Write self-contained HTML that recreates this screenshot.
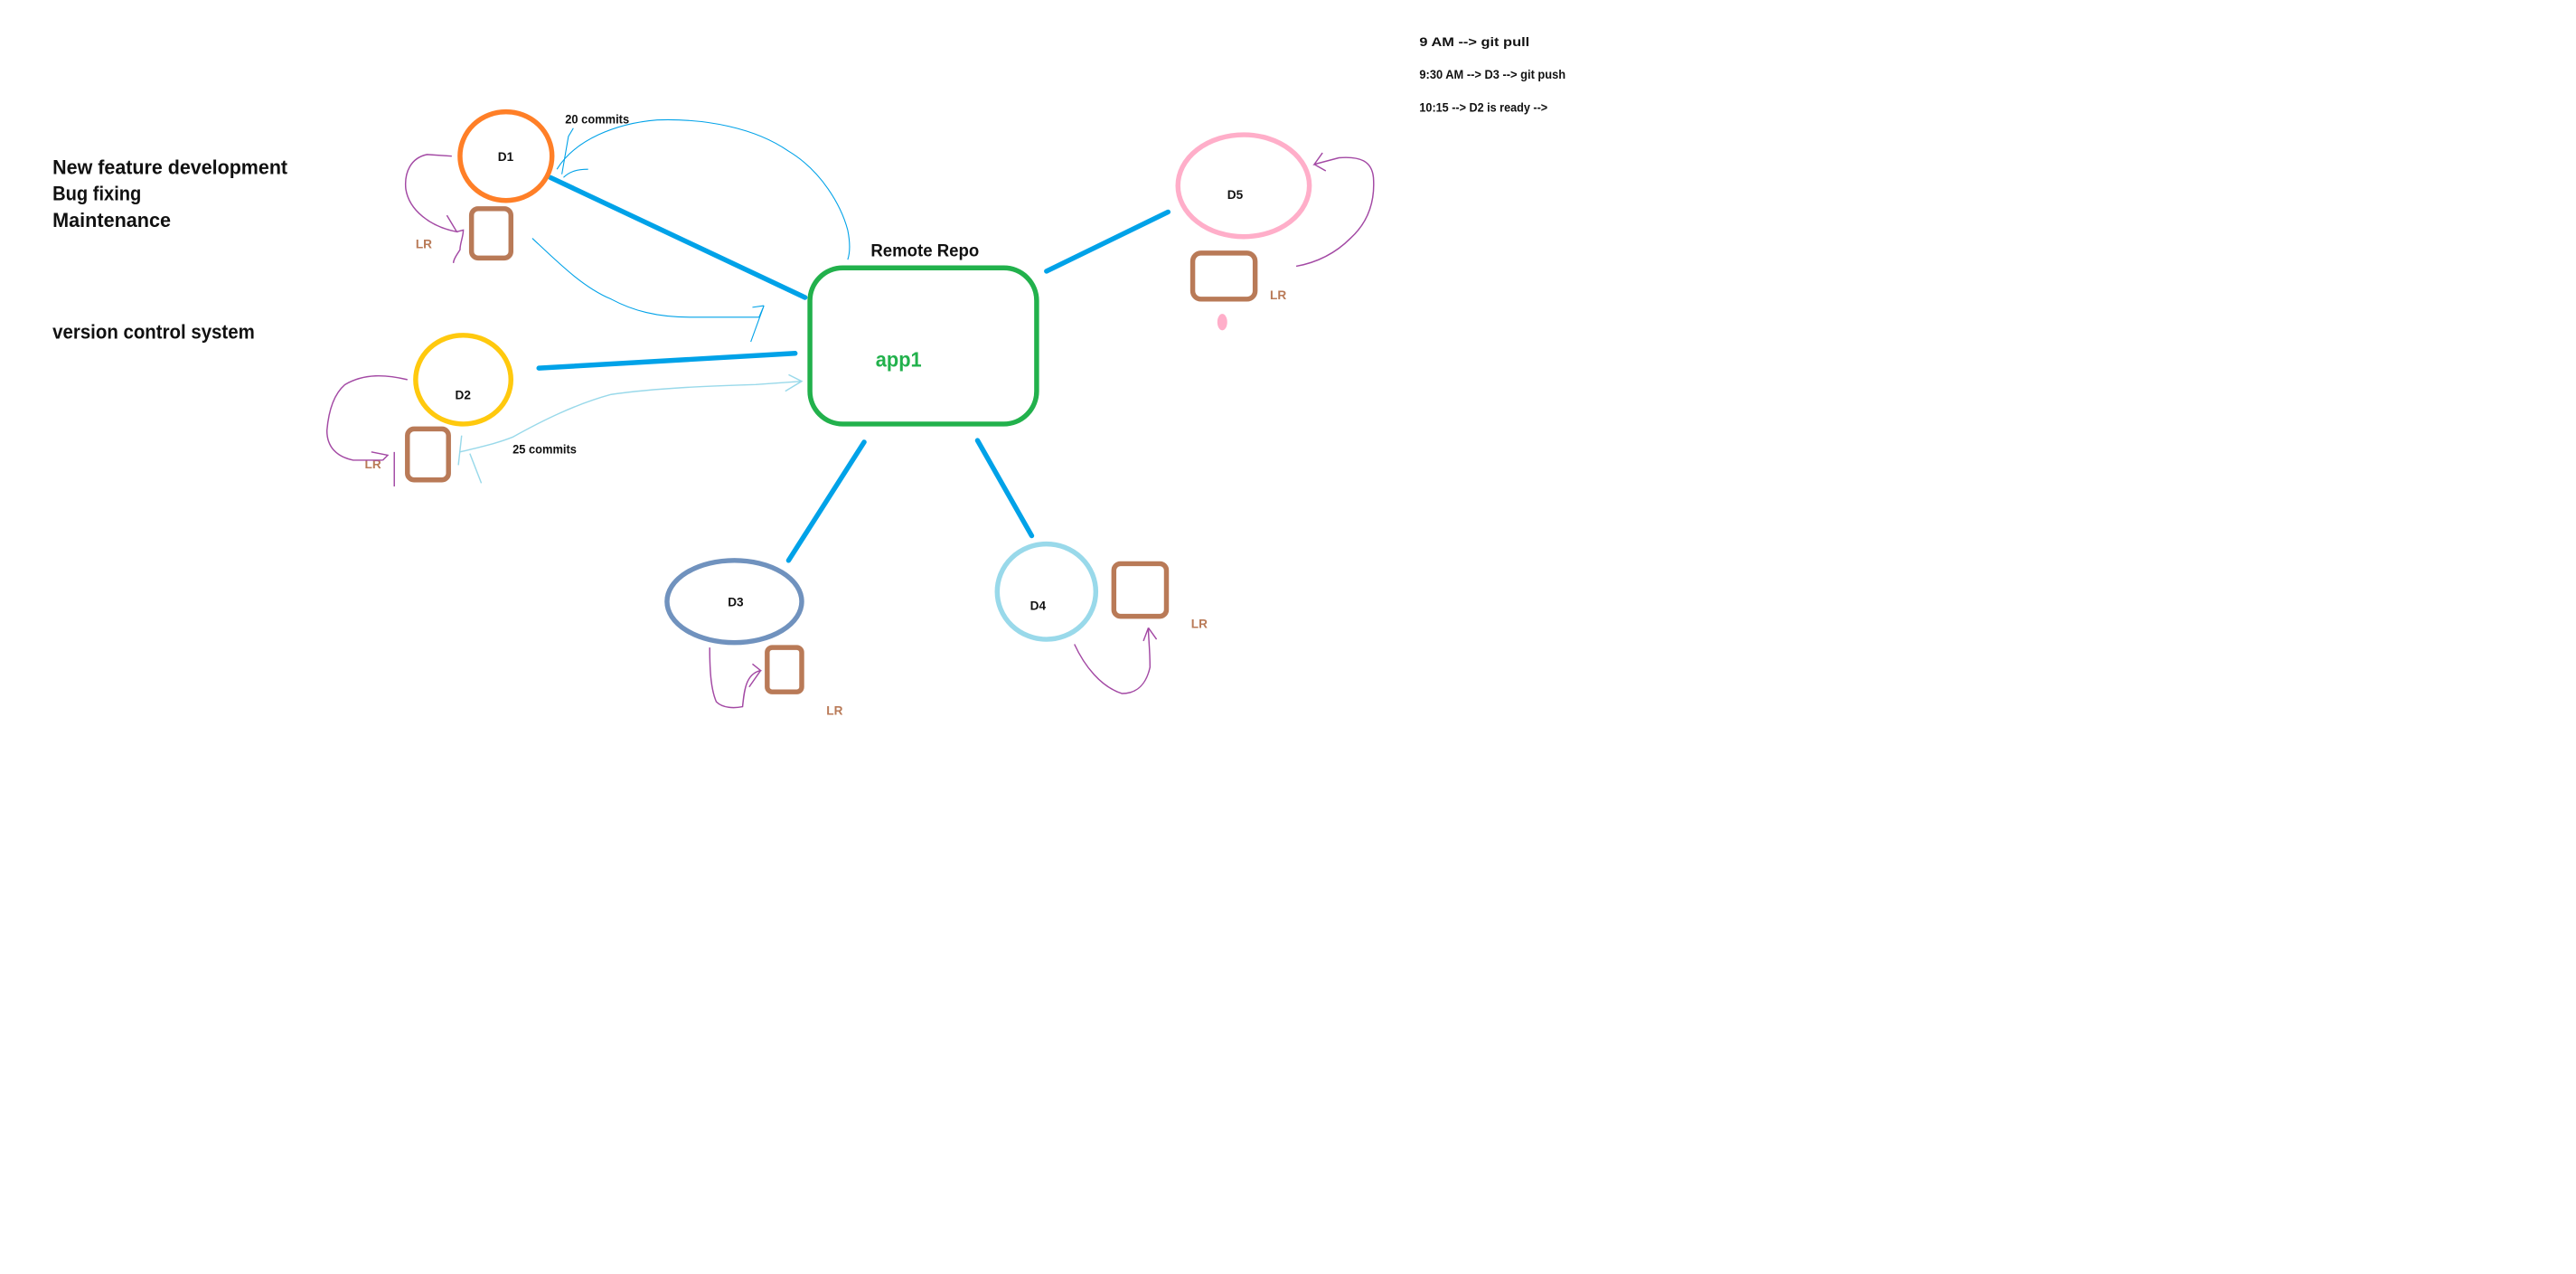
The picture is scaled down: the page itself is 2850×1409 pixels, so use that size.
<!DOCTYPE html>
<html><head><meta charset="utf-8"><style>
html,body{margin:0;padding:0;background:#fff;}
svg{display:block;}
text{font-family:"Liberation Sans",sans-serif;font-weight:bold;}
</style></head><body>
<svg width="2850" height="1409" viewBox="0 0 1568 775.2" xmlns="http://www.w3.org/2000/svg">
<rect width="1568" height="776" fill="#fff"/>
<!-- left texts -->
<g fill="#111" font-size="12">
<text x="32" y="106" textLength="143" lengthAdjust="spacingAndGlyphs">New feature development</text>
<text x="32" y="122" textLength="54" lengthAdjust="spacingAndGlyphs">Bug fixing</text>
<text x="32" y="138" textLength="72" lengthAdjust="spacingAndGlyphs">Maintenance</text>
<text x="32" y="206" textLength="123" lengthAdjust="spacingAndGlyphs">version control system</text>
</g>
<g fill="#111" font-size="7.5">
<text x="864" y="28" textLength="67" lengthAdjust="spacingAndGlyphs">9 AM --&gt; git pull</text>
<text x="864" y="48" textLength="89" lengthAdjust="spacingAndGlyphs">9:30 AM --&gt; D3 --&gt; git push</text>
<text x="864" y="68" textLength="78" lengthAdjust="spacingAndGlyphs">10:15 --&gt; D2 is ready --&gt;</text>
</g>
<!-- blue thick lines -->
<g stroke="#00a2e8" stroke-width="3" stroke-linecap="round">
<line x1="335" y1="108" x2="490" y2="181"/>
<line x1="328" y1="224" x2="484" y2="215"/>
<line x1="637" y1="165" x2="711" y2="129"/>
<line x1="480" y1="341" x2="526" y2="269"/>
<line x1="595" y1="268" x2="628" y2="326"/>
</g>
<!-- remote repo -->
<rect x="493" y="163" width="138" height="95" rx="20" fill="none" stroke="#22b14c" stroke-width="3"/>
<text x="530" y="156" font-size="10.5" fill="#111" textLength="66" lengthAdjust="spacingAndGlyphs">Remote Repo</text>
<text x="533" y="223" font-size="12.5" fill="#22b14c" textLength="28" lengthAdjust="spacingAndGlyphs">app1</text>
<!-- nodes -->
<ellipse cx="308" cy="95" rx="28" ry="27" fill="none" stroke="#ff7f27" stroke-width="3"/>
<ellipse cx="282" cy="231" rx="29" ry="27" fill="none" stroke="#ffc90e" stroke-width="3"/>
<ellipse cx="447" cy="366" rx="41" ry="25" fill="none" stroke="#7092be" stroke-width="3"/>
<ellipse cx="637" cy="360" rx="30" ry="29" fill="none" stroke="#99d9ea" stroke-width="3"/>
<ellipse cx="757" cy="113" rx="40" ry="31" fill="none" stroke="#ffaec9" stroke-width="3"/>
<ellipse cx="744" cy="196" rx="3" ry="5" fill="#ffaec9"/>
<g fill="#111" font-size="7.5">
<text x="303" y="98">D1</text><text x="277" y="243">D2</text><text x="443" y="369">D3</text><text x="627" y="371">D4</text><text x="747" y="121">D5</text>
<text x="344" y="75" textLength="39" lengthAdjust="spacingAndGlyphs">20 commits</text>
<text x="312" y="276" textLength="39" lengthAdjust="spacingAndGlyphs">25 commits</text>
</g>
<!-- LR boxes -->
<g fill="none" stroke="#b97a57" stroke-width="3">
<rect x="287" y="127" width="24" height="30" rx="4"/>
<rect x="248" y="261" width="25" height="31" rx="4"/>
<rect x="467" y="394" width="21" height="27" rx="3"/>
<rect x="678" y="343" width="32" height="32" rx="4"/>
<rect x="726" y="154" width="38" height="28" rx="5"/>
</g>
<g fill="#b97a57" font-size="7.5">
<text x="253" y="151">LR</text><text x="222" y="285">LR</text><text x="503" y="435">LR</text><text x="725" y="382">LR</text><text x="773" y="182">LR</text>
</g>
<!-- purple curves -->
<g fill="none" stroke="#a349a4" stroke-width="0.8">
<path d="M275,95 L260,94 C250,96 246,105 247,115 C249,128 262,138 278,141 L272,131 M278,141 L282,140 C282,144 280,148 280,152 C278,155 276,158 276,160"/>
<path d="M248,231 C235,228 222,227 210,234 C203,240 200,250 199,262 C199,272 205,278 215,280 L233,280 M226,275 L236,277 L233,280 M240,275 L240,296"/>
<path d="M432,394 C432,410 433,420 436,427 C440,431 447,431 452,430 C453,420 454,410 463,408 L458,404 M463,408 L456,418"/>
<path d="M654,392 C660,405 670,418 683,422 C693,422 698,415 700,406 C700,395 699,388 699,382 L696,390 M699,382 L704,389"/>
<path d="M789,162 C800,160 812,155 822,145 C833,135 837,122 836,108 C835,98 828,95 815,96 L800,100 L805,93 M800,100 L807,104"/>
</g>
<!-- light blue curves -->
<g fill="none" stroke="#00a2e8" stroke-width="0.6">
<path d="M339,103 C350,85 375,75 400,73 C430,72 460,78 480,92 C500,104 512,125 516,140 C518,150 517,155 516,158"/>
<path d="M342,106 L346,83 L349,78"/>
<path d="M343,108 C346,105 350,103 358,103"/>
<path d="M324,145 C340,160 355,175 372,182 C385,189 400,193 420,193 L462,193 L465,186 M465,186 L458,187 M465,186 L457,208"/>
</g>
<g fill="none" stroke="#99d9ea" stroke-width="0.8">
<path d="M280,275 C292,272 302,270 312,266 C330,256 350,246 372,240 C400,236 430,235 460,234 L488,232 M480,228 L488,232 L478,238"/>
<path d="M281,265 L279,283 M286,276 L293,294"/>
</g>
</svg>
</body></html>
